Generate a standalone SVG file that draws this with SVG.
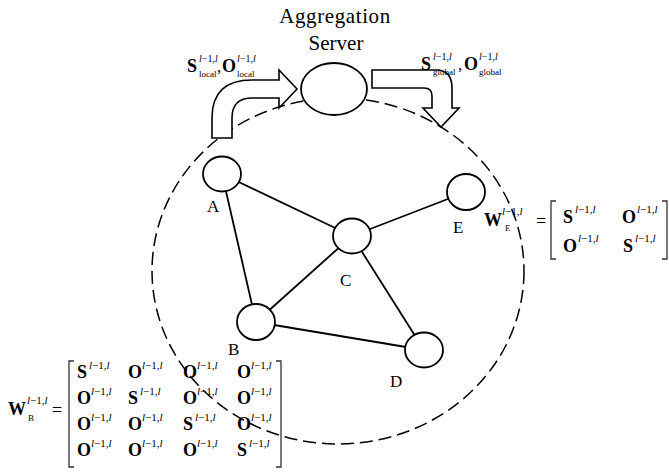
<svg xmlns="http://www.w3.org/2000/svg" width="669" height="473" viewBox="0 0 669 473">
<style>
.t{font-family:"Liberation Serif","Times New Roman",serif;fill:#000}
.lbl{font-size:17px}
.big{font-size:18px;font-weight:bold}
.sup{font-size:11px}
.sup2{font-size:10px}
.sub{font-size:9px}
.it{font-style:italic}
.node{fill:#fff;stroke:#000;stroke-width:1.8}
.edge{stroke:#000;stroke-width:1.8;fill:none}
.arrow{fill:#fff;stroke:#000;stroke-width:1.6;stroke-linejoin:miter}
.brk{fill:none;stroke:#333;stroke-width:1.3}
</style>
<rect width="669" height="473" fill="#fff"/>
<ellipse id="boundary" cx="338" cy="271" rx="186" ry="173" fill="none" stroke="#000" stroke-width="1.5" stroke-dasharray="13 6"/>
<g id="connectors">
<line class="edge" x1="222" y1="174" x2="352" y2="236"/>
<line class="edge" x1="222" y1="174" x2="256" y2="322"/>
<line class="edge" x1="352" y1="236" x2="466" y2="192"/>
<line class="edge" x1="352" y1="236" x2="256" y2="322"/>
<line class="edge" x1="352" y1="236" x2="424" y2="350"/>
<line class="edge" x1="256" y1="322" x2="424" y2="350"/>
</g>
<g id="upload-arrow"><path class="arrow" d="M212,138 L212,118 Q212,80 252,80 L279,80 L279,70 L297,89 L279,108 L279,98 L252,98 Q232,98 232,118 L232,138 Z"/></g>
<g id="download-arrow"><path class="arrow" d="M372,70 L436,70 Q452,70 452,88 L452,108 L459,108 L441,127 L423,108 L432,108 L432,96 Q432,88 424,88 L372,88 Z"/></g>
<g id="server">
<ellipse class="node" cx="334" cy="89" rx="33" ry="26"/>
<text class="t" x="335" y="23" font-size="21" text-anchor="middle" letter-spacing="0.6">Aggregation</text>
<text class="t" x="336" y="50" font-size="21" text-anchor="middle">Server</text>
</g>
<g id="node-A"><ellipse class="node" cx="222" cy="174" rx="19" ry="17.5"/><text class="t lbl" x="207" y="212">A</text></g>
<g id="node-B"><ellipse class="node" cx="256" cy="322" rx="19" ry="18"/><text class="t lbl" x="228" y="355">B</text></g>
<g id="node-C"><ellipse class="node" cx="352" cy="236" rx="19" ry="17.5"/><text class="t lbl" x="340" y="286">C</text></g>
<g id="node-D"><ellipse class="node" cx="424" cy="350" rx="19" ry="17.5"/><text class="t lbl" x="390" y="387">D</text></g>
<g id="node-E"><ellipse class="node" cx="466" cy="192" rx="19" ry="18"/><text class="t lbl" x="453" y="233">E</text></g>
<g id="label-local">
<text class="t big" x="187" y="72">S</text>
<text class="t sup2" x="199" y="62"><tspan class="it">l</tspan>−1,<tspan class="it">l</tspan></text>
<text class="t sub" x="199" y="77">local</text>
<text class="t lbl" x="217" y="72">,</text>
<text class="t big" x="222" y="72">O</text>
<text class="t sup2" x="237" y="62"><tspan class="it">l</tspan>−1,<tspan class="it">l</tspan></text>
<text class="t sub" x="237" y="77">local</text>
</g>
<g id="label-global">
<text class="t big" x="421" y="70">S</text>
<text class="t sup2" x="433" y="60"><tspan class="it">l</tspan>−1,<tspan class="it">l</tspan></text>
<text class="t sub" x="433" y="75">global</text>
<text class="t lbl" x="458" y="70">,</text>
<text class="t big" x="464" y="70">O</text>
<text class="t sup2" x="479" y="60"><tspan class="it">l</tspan>−1,<tspan class="it">l</tspan></text>
<text class="t sub" x="479" y="75">global</text>
</g>
<g id="matrix-E">
<text class="t big" x="484" y="226">W</text>
<text class="t sup" x="502" y="215"><tspan class="it">l</tspan>−1,<tspan class="it">l</tspan></text>
<text class="t sub" x="505" y="231">E</text>
<text class="t" font-size="18" x="536" y="227">=</text>
<path class="brk" d="M556,201 L551,201 L551,259 L556,259"/>
<path class="brk" d="M662,201 L667,201 L667,259 L662,259"/>
<text class="t big" x="563" y="223">S</text>
<text class="t sup" x="575" y="213"><tspan class="it">l</tspan>−1,<tspan class="it">l</tspan></text>
<text class="t big" x="622" y="223">O</text>
<text class="t sup" x="637" y="213"><tspan class="it">l</tspan>−1,<tspan class="it">l</tspan></text>
<text class="t big" x="563" y="252">O</text>
<text class="t sup" x="578" y="242"><tspan class="it">l</tspan>−1,<tspan class="it">l</tspan></text>
<text class="t big" x="623" y="252">S</text>
<text class="t sup" x="635" y="242"><tspan class="it">l</tspan>−1,<tspan class="it">l</tspan></text>
</g>
<g id="matrix-B">
<text class="t big" x="8" y="415">W</text>
<text class="t sup" x="27" y="404"><tspan class="it">l</tspan>−1,<tspan class="it">l</tspan></text>
<text class="t" font-size="9" x="28" y="421">B</text>
<text class="t" font-size="18" x="52" y="416">=</text>
<path class="brk" d="M74,361 L69,361 L69,467 L74,467"/>
<path class="brk" d="M276,361 L281,361 L281,467 L276,467"/>
<g>
<text class="t big" x="77" y="378" font-size="17">S</text><text class="t sup" x="89" y="369"><tspan class="it">l</tspan>−1,<tspan class="it">l</tspan></text>
<text class="t big" x="128" y="378" font-size="17">O</text><text class="t sup" x="142" y="369"><tspan class="it">l</tspan>−1,<tspan class="it">l</tspan></text>
<text class="t big" x="183" y="378" font-size="17">O</text><text class="t sup" x="197" y="369"><tspan class="it">l</tspan>−1,<tspan class="it">l</tspan></text>
<text class="t big" x="237" y="378" font-size="17">O</text><text class="t sup" x="251" y="369"><tspan class="it">l</tspan>−1,<tspan class="it">l</tspan></text>
<text class="t big" x="77" y="404" font-size="17">O</text><text class="t sup" x="91" y="395"><tspan class="it">l</tspan>−1,<tspan class="it">l</tspan></text>
<text class="t big" x="128" y="404" font-size="17">S</text><text class="t sup" x="140" y="395"><tspan class="it">l</tspan>−1,<tspan class="it">l</tspan></text>
<text class="t big" x="183" y="404" font-size="17">O</text><text class="t sup" x="197" y="395"><tspan class="it">l</tspan>−1,<tspan class="it">l</tspan></text>
<text class="t big" x="237" y="404" font-size="17">O</text><text class="t sup" x="251" y="395"><tspan class="it">l</tspan>−1,<tspan class="it">l</tspan></text>
<text class="t big" x="77" y="430" font-size="17">O</text><text class="t sup" x="91" y="421"><tspan class="it">l</tspan>−1,<tspan class="it">l</tspan></text>
<text class="t big" x="128" y="430" font-size="17">O</text><text class="t sup" x="142" y="421"><tspan class="it">l</tspan>−1,<tspan class="it">l</tspan></text>
<text class="t big" x="183" y="430" font-size="17">S</text><text class="t sup" x="195" y="421"><tspan class="it">l</tspan>−1,<tspan class="it">l</tspan></text>
<text class="t big" x="237" y="430" font-size="17">O</text><text class="t sup" x="251" y="421"><tspan class="it">l</tspan>−1,<tspan class="it">l</tspan></text>
<text class="t big" x="77" y="456" font-size="17">O</text><text class="t sup" x="91" y="447"><tspan class="it">l</tspan>−1,<tspan class="it">l</tspan></text>
<text class="t big" x="128" y="456" font-size="17">O</text><text class="t sup" x="142" y="447"><tspan class="it">l</tspan>−1,<tspan class="it">l</tspan></text>
<text class="t big" x="183" y="456" font-size="17">O</text><text class="t sup" x="197" y="447"><tspan class="it">l</tspan>−1,<tspan class="it">l</tspan></text>
<text class="t big" x="237" y="456" font-size="17">S</text><text class="t sup" x="249" y="447"><tspan class="it">l</tspan>−1,<tspan class="it">l</tspan></text>
</g>
</g>
</svg>
